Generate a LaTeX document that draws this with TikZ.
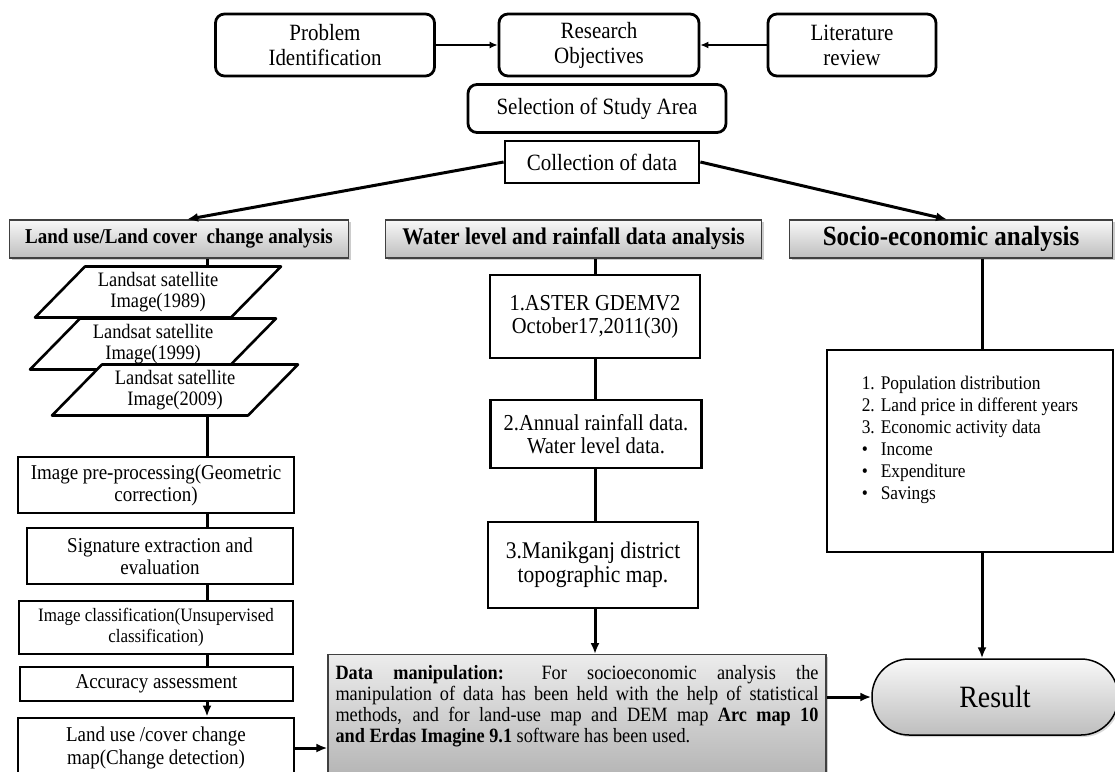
\documentclass[tikz,border=0pt]{standalone}
\usepackage{fontspec}
\setmainfont{Liberation Serif}[FakeStretch=0.9]
\usetikzlibrary{arrows.meta,shadows}
\definecolor{hdtop}{RGB}{248,248,248}
\definecolor{hdbot}{RGB}{190,190,190}
\definecolor{dmtop}{RGB}{236,236,236}
\definecolor{dmbot}{RGB}{178,178,178}

\begin{document}
\begin{tikzpicture}[x=1pt,y=-1pt]
    \useasboundingbox (0,0) rectangle (1115,771);
    \coordinate (lx) at (207,0);
    \coordinate (mx) at (595,0);
    \coordinate (sx) at (982,0);

    \begin{scope}[every node/.style={draw,line width=2.8pt,rounded corners=9pt,align=center,inner ysep=2pt,font=\fontsize{23.3}{25}\selectfont}]
        \node[minimum width=219,minimum height=62] (prob) at (325,45) {Problem\\Identification};
        \node[minimum width=200,minimum height=62] (obj) at (599,45) {Research\\Objectives};
        \node[minimum width=168,minimum height=62] (lit) at (852,45) {Literature\\review};
        \node[minimum width=258,minimum height=48] (area) at (597,108.5) {Selection of Study Area};
        \node[sharp corners,minimum width=194,minimum height=42] (coll) at (602,162) {Collection of data};
    \end{scope}

    \begin{scope}[every node/.style={draw=black!75,line width=1.2pt,minimum height=38,inner ysep=1pt,top color=hdtop,bottom color=hdbot,
        drop shadow={shadow xshift=2pt,shadow yshift=-2pt,opacity=.4}}]
        \node[minimum width=339,font=\bfseries\fontsize{21.1}{23}\selectfont] (land) at (179,239) {Land use/Land cover\ \ change analysis};
        \node[minimum width=376,font=\bfseries\fontsize{23.9}{25}\selectfont] (water) at (573.5,239) {Water level and rainfall data analysis};
        \node[minimum width=323,font=\bfseries\fontsize{27.8}{29}\selectfont] (socio) at (951,239) {Socio-economic analysis};
    \end{scope}

    \foreach \yr/\cx/\cy in {1989/158/292,1999/153/344,2009/175/390}{
        \draw[line width=2.6pt,fill=white,line join=round] (\cx,\cy) ++(-73,-25.5) -- ++(196,0) -- ++(-50,51) -- ++(-196,0) -- cycle;
        \node[minimum width=150,minimum height=51,inner sep=0pt,align=center,font=\fontsize{20.5}{20.5}\selectfont] (img\yr) at (\cx,\cy) {Landsat satellite\\Image(\yr)};
    }

    \begin{scope}[every node/.style={draw,line width=2.8pt,align=center,inner ysep=2pt,font=\fontsize{21.1}{22}\selectfont}]
        \node[minimum width=276,minimum height=56] (pre) at (156,485) {Image pre-processing(Geometric\\correction)};
        \node[minimum width=266,minimum height=56] (sig) at (160,556) {Signature extraction and\\evaluation};
        \node[minimum width=274,minimum height=53,font=\fontsize{18.9}{20.5}\selectfont] (cls) at (156,627.5) {Image classification(Unsupervised\\classification)};
        \node[minimum width=273,minimum height=34] (acc) at (156.5,684) {Accuracy assessment};
        \node[minimum width=276,minimum height=60,font=\fontsize{21.1}{23.5}\selectfont] (lmap) at (156,748) {Land use /cover change\\map(Change detection)};
    \end{scope}

    \begin{scope}[every node/.style={draw,line width=2.8pt,align=center,font=\fontsize{22.8}{23}\selectfont}]
        \node[minimum width=210,minimum height=83] (aster) at (595,316.5) {1.ASTER GDEMV2\\October17,2011(30)};
        \node[minimum width=211,minimum height=68] (rain) at (596,434) {2.Annual rainfall data.\\Water level data.};
        \node[minimum width=210,minimum height=86,font=\fontsize{23.9}{24}\selectfont] (mani) at (593,565) {3.Manikganj district\\topographic map.};
    \end{scope}

    \node[draw,line width=2.8pt,minimum width=286,minimum height=202,font=\fontsize{19.3}{22}\selectfont] (socl) at (970,451)
        {\begin{tabular}{@{}p{19pt}@{}l@{}}
        1.&Population distribution\\
        2.&Land price in different years\\
        3.&Economic activity data\\
        \textbullet&Income\\
        \textbullet&Expenditure\\
        \textbullet&Savings\\
        &
        \end{tabular}};

    \node[draw=black!75,line width=1.2pt,top color=dmtop,bottom color=dmbot,drop shadow={shadow xshift=2pt,shadow yshift=-2pt,opacity=.4},
        anchor=north,minimum width=498,minimum height=128,text width=483,align=justify,font=\fontsize{20.3}{21}\selectfont] (data) at (577,654)
        {\textbf{Data manipulation:} For socioeconomic analysis the\linebreak
        manipulation of data has been held with the help of statistical\linebreak
        methods, and for land-use map and DEM map \textbf{Arc map 10}\linebreak
        \textbf{and Erdas Imagine 9.1} software has been used.\par\vspace{8pt}\rule{0pt}{16pt}};

    \node[draw,line width=1.5pt,rounded corners=37pt,minimum width=246,minimum height=76,top color=hdtop,bottom color=hdbot,
        drop shadow={shadow xshift=2pt,shadow yshift=-2pt,opacity=.3},font=\fontsize{31}{33}\selectfont] (res) at (995,697) {Result};

    \begin{scope}[>={Latex[length=11pt,width=9pt]},
        every edge/.style={draw,line width=3pt}]
        \path [->] (coll.west) edge ([xshift=8pt]land.north);
        \path [->] (coll.east) edge ([xshift=-4pt]socio.north);
        \path [-] (land.south -| lx) edge (img1989.north -| lx);
        \path [-] (img2009.south -| lx) edge (pre.north -| lx);
        \path [-] (pre.south -| lx) edge (sig.north -| lx);
        \path [-] (sig.south -| lx) edge (cls.north -| lx);
        \path [-] (cls.south -| lx) edge (acc.north -| lx);
        \path [->] (acc.south -| lx) edge (lmap.north -| lx);
        \path [->] (lmap.east) edge (lmap.east -| data.west);
        \path [-] (water.south -| mx) edge (aster.north -| mx);
        \path [-] (aster.south -| mx) edge (rain.north -| mx);
        \path [-] (rain.south -| mx) edge (mani.north -| mx);
        \path [->] (mani.south -| mx) edge (data.north -| mx);
        \path [-] (socio.south -| sx) edge (socl.north -| sx);
        \path [->] (socl.south -| sx) edge (res.north -| sx);
        \path [->] (res.west -| data.east) edge (res.west);
    \end{scope}
    \begin{scope}[>={Latex[length=8pt,width=7pt]},
        every edge/.style={draw,line width=1.3pt}]
        \path [->] (prob) edge (obj);
        \path [->] (lit) edge (obj);
    \end{scope}

\end{tikzpicture}
\end{document}
